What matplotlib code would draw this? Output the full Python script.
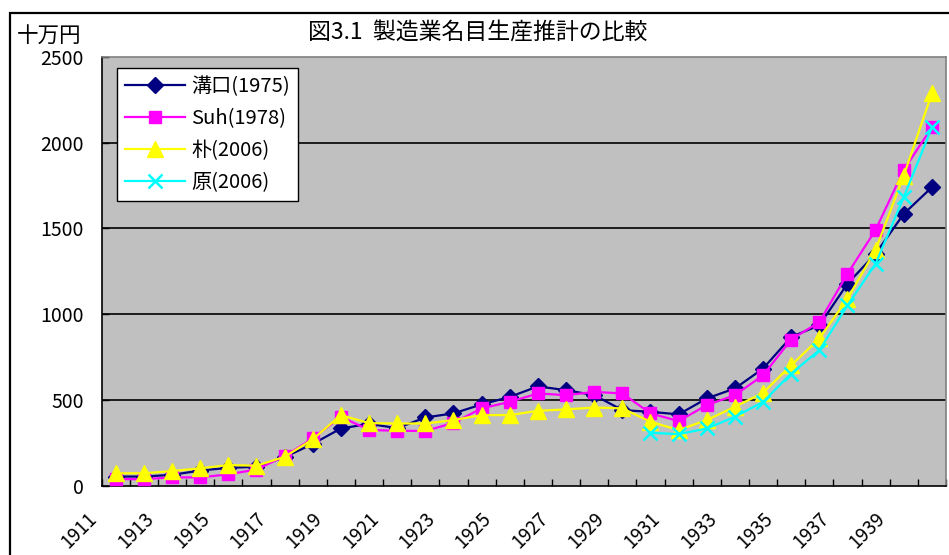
import matplotlib
matplotlib.use("Agg")
import matplotlib.pyplot as plt
from matplotlib.transforms import ScaledTranslation
from matplotlib.patches import Rectangle

plt.rcParams['font.family'] = ['Noto Sans CJK JP', 'DejaVu Sans']

# Data
years = list(range(1911, 1941))
mizoguchi = [55, 55, 65, 90, 106, 112, 168, 245, 335, 362, 337, 399, 423, 475, 519,
             580, 558, 529, 442, 432, 417, 510, 568, 684, 868, 936, 1178, 1353, 1585, 1740]
suh = [40, 40, 50, 50, 68, 96, 174, 277, 403, 326, 322, 320, 368, 452, 490,
       539, 529, 548, 539, 423, 378, 471, 529, 645, 853, 955, 1236, 1492, 1841, 2089]
park = [74, 74, 87, 103, 122, 118, 170, 272, 413, 366, 364, 364, 384, 413, 413,
        438, 446, 457, 452, 374, 326, 384, 461, 543, 703, 859, 1091, 1376, 1808, 2287]
hara = [None] * 19 + [310, 302, 335, 403, 490, 655, 791, 1052, 1295, 1682, 2089]

series_names = ["溝口(1975)", "Suh(1978)", "朴(2006)", "原(2006)"]
tick_years = [str(y) for y in range(1911, 1940, 2)]

W, H = 949, 555
fig = plt.figure(figsize=(W / 100, H / 100), dpi=100)

# outer frame
fig.patches.append(Rectangle((9.5 / W, -0.1), 1.2, 1 - 12.7 / H + 0.1, transform=fig.transFigure,
                             fill=False, edgecolor='black', linewidth=1.6))

left, right, top, bottom = 101.7, 946, 56.7, 486
ax = fig.add_axes([left / W, 1 - bottom / H, (right - left) / W, (bottom - top) / H])
ax.set_facecolor('#C0C0C0')

x = list(range(len(years)))
hara_x = [i for i, v in zip(x, hara) if v is not None]
hara_v = [v for v in hara if v is not None]

ax.plot(x, mizoguchi, color='#000080', marker='D', markersize=8, lw=1.6, label=series_names[0], zorder=3)
ax.plot(x, suh, color='#FF00FF', marker='s', markersize=9, lw=1.6, label=series_names[1], zorder=4)
ax.plot(x, park, color='#FFFF00', marker='^', markersize=11, lw=1.6, label=series_names[2], zorder=5)
ax.plot(hara_x, hara_v, color='#00FFFF', marker='x', markersize=10, mew=1.8, lw=1.6, label=series_names[3], zorder=6)

ax.set_xlim(-0.5, len(years) - 0.5)
ax.set_ylim(0, 2500)
ax.set_yticks(range(0, 2501, 500))
ax.set_yticklabels([str(v) for v in range(0, 2501, 500)], fontsize=14)
for v in range(500, 2500, 500):
    ax.axhline(v, color='black', lw=1.2, zorder=1)

ax.set_xticks([i - 0.5 for i in range(len(years) + 1)], minor=True)
ax.set_xticks(list(range(0, len(years), 2)))
ax.set_xticklabels(tick_years, rotation=45, ha='right', va='top', fontsize=13.5)
ax.tick_params(axis='x', which='major', length=0, pad=16)
ax.tick_params(axis='x', which='minor', direction='in', length=5, width=1)
ax.tick_params(axis='y', direction='in', length=5, width=1, pad=13)
for lab in ax.get_xticklabels():
    lab.set_transform(lab.get_transform() + ScaledTranslation(-0.14, 0, fig.dpi_scale_trans))

for s in ['top', 'right']:
    ax.spines[s].set_color('#808080')
    ax.spines[s].set_linewidth(1.2)
for s in ['left', 'bottom']:
    ax.spines[s].set_color('black')
    ax.spines[s].set_linewidth(1.2)

leg = ax.legend(loc='upper left', bbox_to_anchor=(117 / W, 1 - 68 / H), bbox_transform=fig.transFigure,
                fontsize=14.5, frameon=True, fancybox=False, edgecolor='black', framealpha=1,
                handlelength=3.0, handletextpad=0.3, borderpad=0.4, labelspacing=0.55, borderaxespad=0)
leg.get_frame().set_linewidth(1.0)

fig.text(478 / W, 1 - 33 / H, "図3.1  製造業名目生産推計の比較", ha='center', va='center', fontsize=16.5)
fig.text(17 / W, 1 - 36 / H, "十万円", ha='left', va='center', fontsize=15.5)

fig.savefig("out.png", dpi=100)
